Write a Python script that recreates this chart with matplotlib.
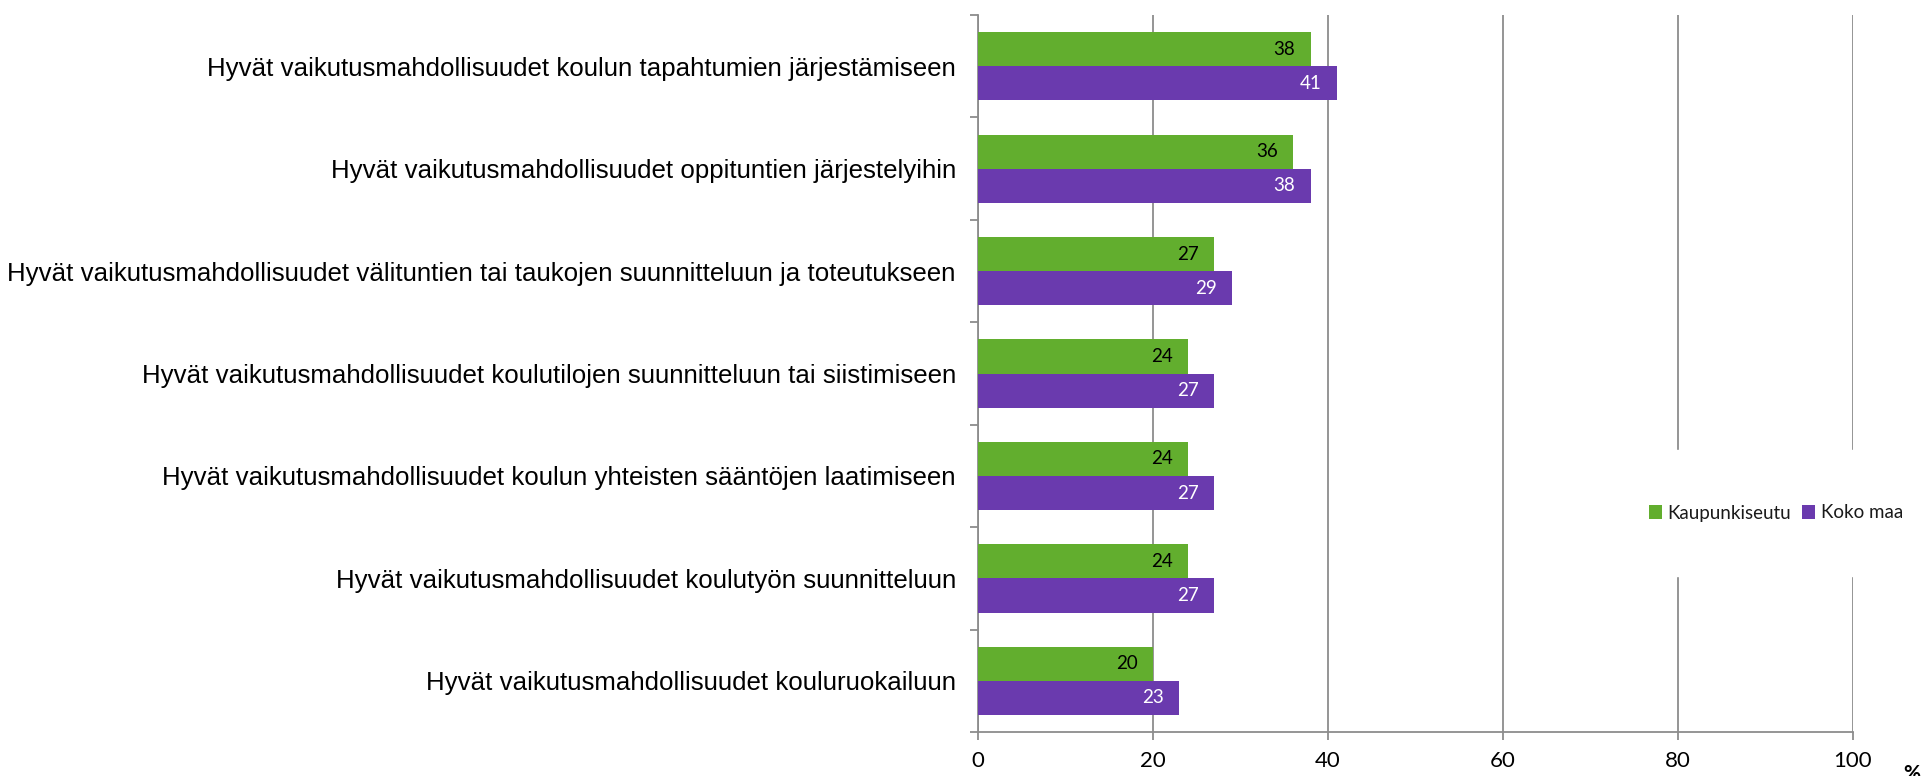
import numpy as np
import matplotlib.pyplot as plt
from matplotlib.ticker import FixedLocator

categories = [
    "Hyvät vaikutusmahdollisuudet koulun tapahtumien järjestämiseen",
    "Hyvät vaikutusmahdollisuudet oppituntien järjestelyihin",
    "Hyvät vaikutusmahdollisuudet välituntien tai taukojen suunnitteluun ja toteutukseen",
    "Hyvät vaikutusmahdollisuudet koulutilojen suunnitteluun tai siistimiseen",
    "Hyvät vaikutusmahdollisuudet koulun yhteisten sääntöjen laatimiseen",
    "Hyvät vaikutusmahdollisuudet koulutyön suunnitteluun",
    "Hyvät vaikutusmahdollisuudet kouluruokailuun",
]
kaupunkiseutu = [38, 36, 27, 24, 24, 24, 20]
koko_maa = [41, 38, 29, 27, 27, 27, 23]
x_ticks = [0, 20, 40, 60, 80, 100]

green = "#62AE2E"
purple = "#6A3AAE"
grid_c = "#8c8c8c"
num_font = "Lato"

fig = plt.figure(figsize=(19.21, 7.76), dpi=100)
ax = fig.add_axes([978 / 1921, 44 / 776, 875 / 1921, 717 / 776])

n = len(categories)
y = np.arange(n)
h = 1 / 3
b1 = ax.barh(y - h / 2, kaupunkiseutu, height=h, color=green, label="Kaupunkiseutu", zorder=3)
b2 = ax.barh(y + h / 2, koko_maa, height=h, color=purple, label="Koko maa", zorder=3)

for rect, v in zip(b1, kaupunkiseutu):
    ax.annotate(str(v), (rect.get_width(), rect.get_y() + rect.get_height() / 2),
                xytext=(-11, 0), textcoords="offset points", ha="right", va="center",
                fontsize=13.5, family=num_font, color="black", zorder=4)
for rect, v in zip(b2, koko_maa):
    ax.annotate(str(v), (rect.get_width(), rect.get_y() + rect.get_height() / 2),
                xytext=(-11, 0), textcoords="offset points", ha="right", va="center",
                fontsize=13.5, family=num_font, color="white", zorder=4)

ax.set_xlim(0, 100)
ax.set_ylim(n - 0.5, -0.5)
ax.set_xticks(x_ticks)
ax.set_xticklabels([str(t) for t in x_ticks], fontsize=16, family=num_font)
ax.set_yticks(y)
ax.set_yticklabels(categories, fontsize=18.6, family="Liberation Sans")
ax.yaxis.set_minor_locator(FixedLocator(np.arange(-0.5, n, 1)))
ax.tick_params(axis="y", which="major", length=0, pad=16)
ax.tick_params(axis="y", which="minor", length=6, width=1.3, color=grid_c)
ax.tick_params(axis="x", length=6, width=1.3, color=grid_c, pad=8)

ax.grid(axis="x", color=grid_c, linewidth=1.3, zorder=0)
ax.set_axisbelow(True)
for s in ["top", "right"]:
    ax.spines[s].set_visible(False)
for s in ["left", "bottom"]:
    ax.spines[s].set_color(grid_c)
    ax.spines[s].set_linewidth(1.3)

leg = fig.legend(loc="center", bbox_to_anchor=(1776 / 1921, 1 - 513 / 776),
                 ncol=2, frameon=True, prop={"family": num_font, "size": 13.5},
                 handlelength=0.7, handleheight=0.7, handletextpad=0.3, columnspacing=0.6,
                 borderpad=2.9, borderaxespad=0)
leg.get_frame().set_facecolor("white")
leg.get_frame().set_edgecolor("white")
leg.get_frame().set_alpha(1)
leg.set_zorder(5)
for t in leg.get_texts():
    t.set_color("#1a1a1a")

fig.text(1903 / 1921, 1 - 764 / 776, "%", ha="left", va="top", fontsize=15,
         fontweight="bold", family=num_font)

fig.savefig("out.png", dpi=100)
